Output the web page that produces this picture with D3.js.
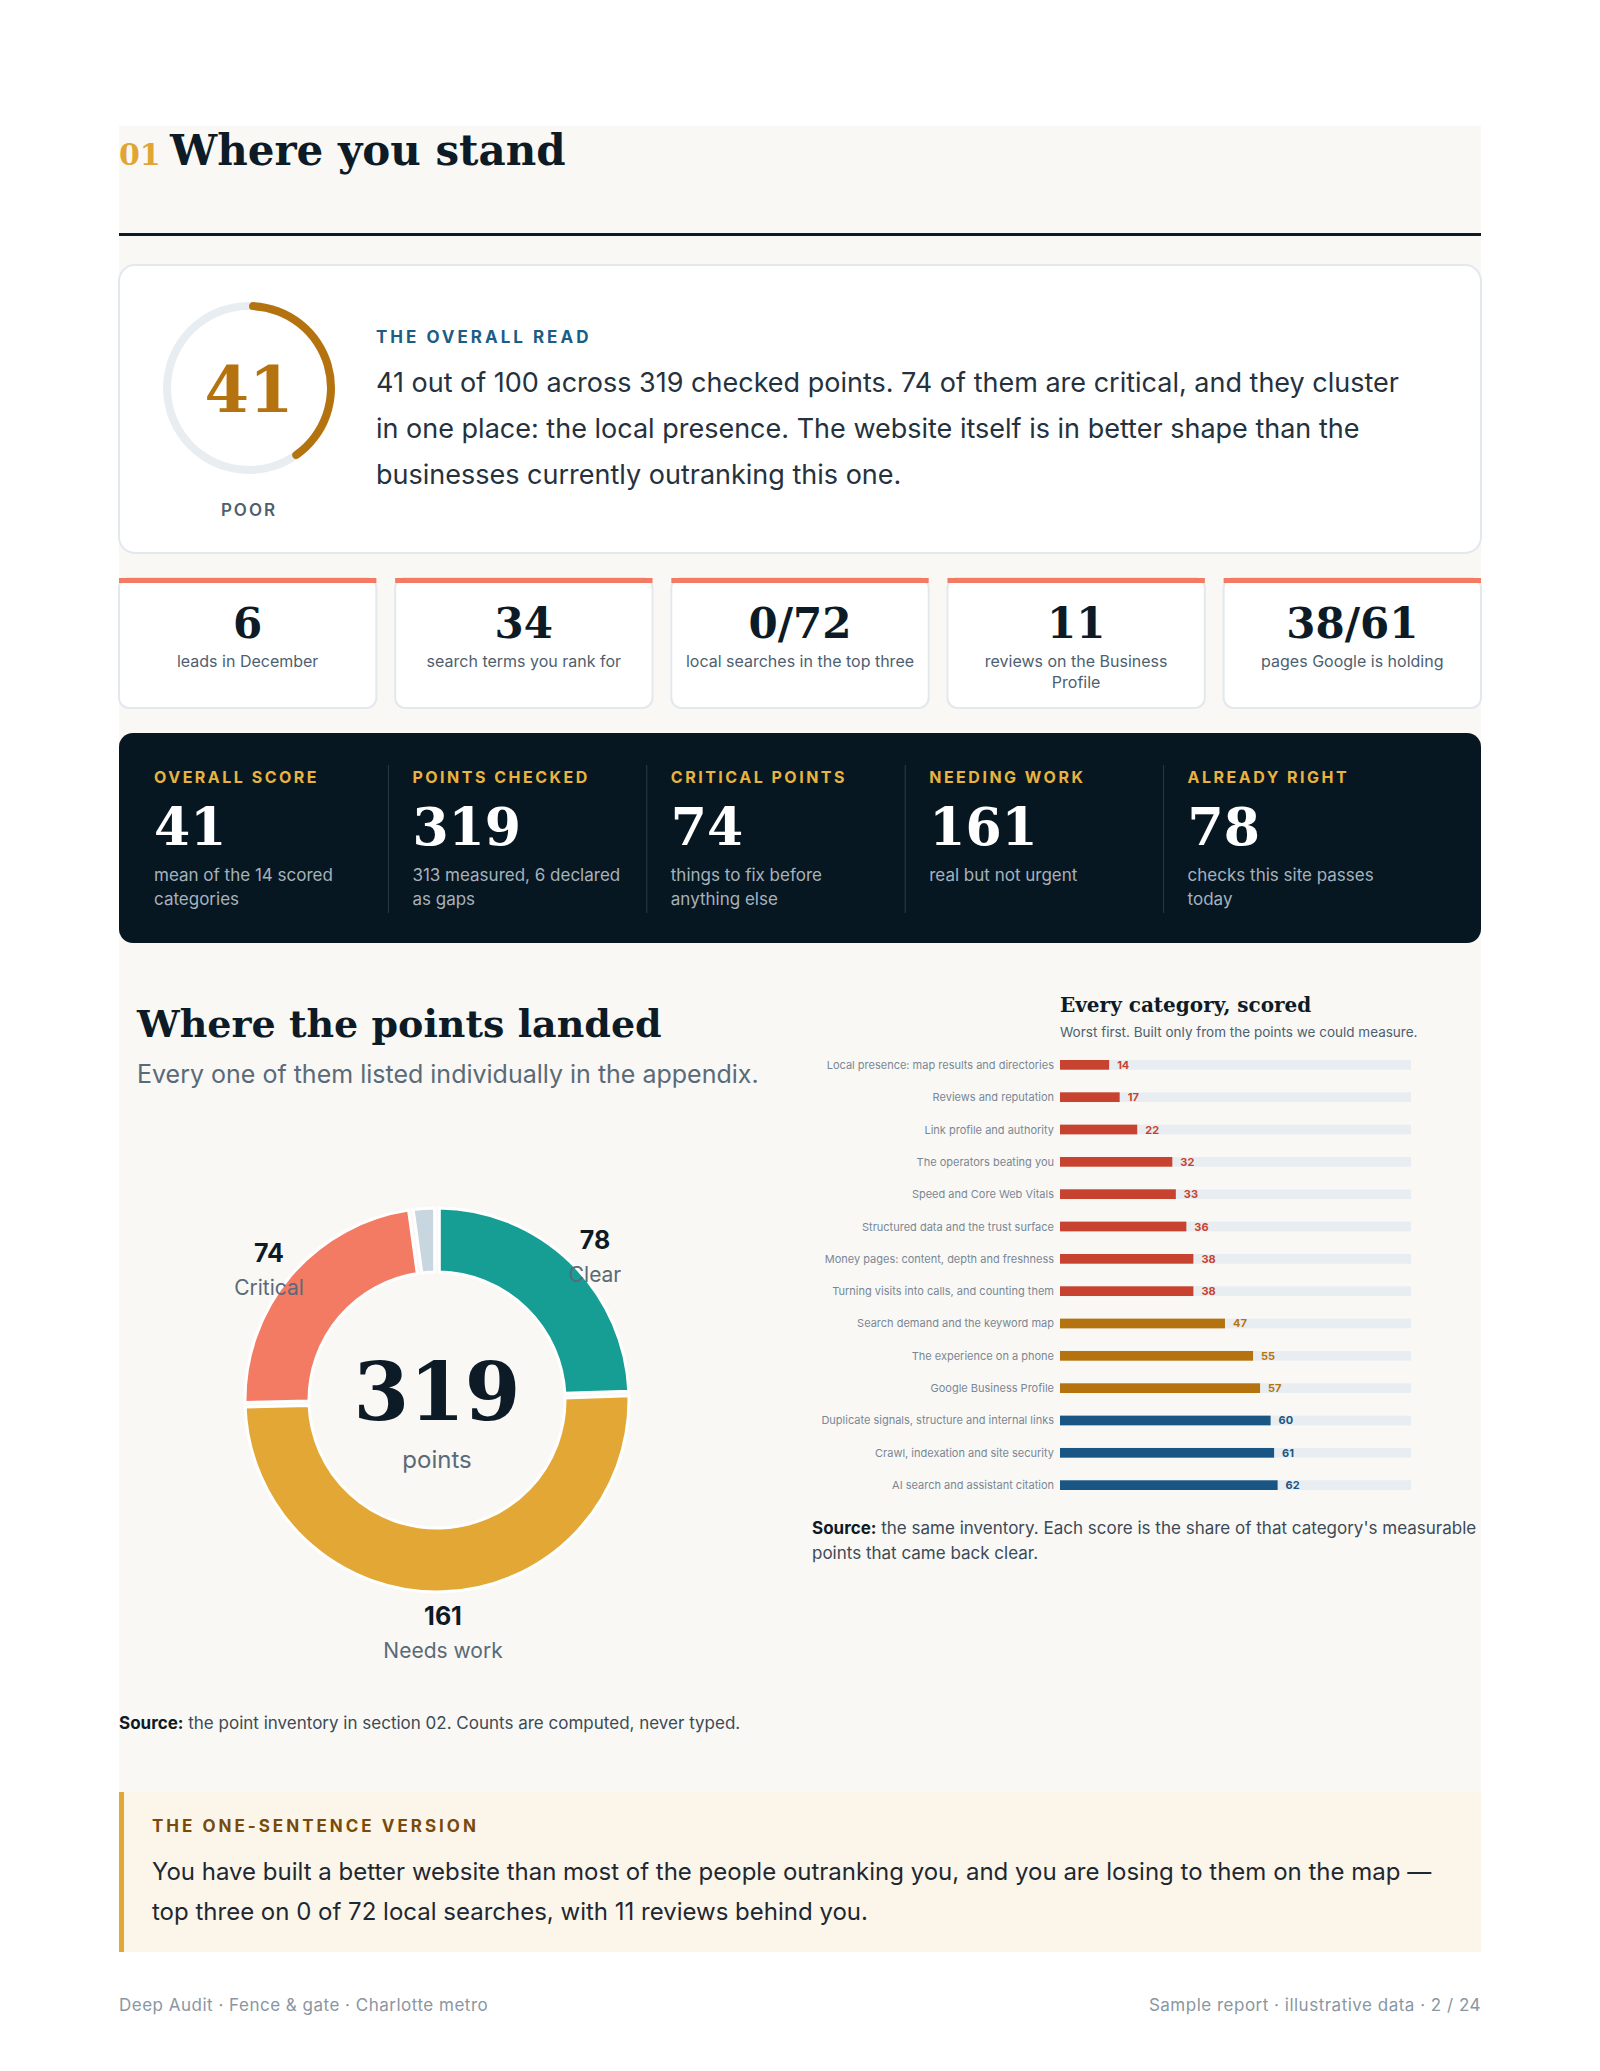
<!DOCTYPE html>
<html><head><meta charset="utf-8">
<script src="https://cdn.jsdelivr.net/npm/d3@7"></script>
<style>
body{margin:0;background:#fff}
svg text{font-family:Inter,"Liberation Sans",sans-serif}
.serif{font-family:"DejaVu Serif","Liberation Serif",serif;font-weight:bold}
</style></head><body>
<svg id="page" width="1600" height="2071"></svg>
<script>
var kpiValues = ["6", "34", "0/72", "11", "38/61"]
var kpiLabels = [["leads in December"], ["search terms you rank for"], ["local searches in the top three"], ["reviews on the Business", "Profile"], ["pages Google is holding"]]
var darkLabels = ["OVERALL SCORE", "POINTS CHECKED", "CRITICAL POINTS", "NEEDING WORK", "ALREADY RIGHT"]
var darkValues = ["41", "319", "74", "161", "78"]
var darkNotes = [["mean of the 14 scored", "categories"], ["313 measured, 6 declared", "as gaps"], ["things to fix before", "anything else"], ["real but not urgent"], ["checks this site passes", "today"]]
var donutNames = ["Clear", "Needs work", "Critical", "Gap"]
var donutValues = [78, 161, 74, 6]
var categories = ["Local presence: map results and directories", "Reviews and reputation", "Link profile and authority", "The operators beating you", "Speed and Core Web Vitals", "Structured data and the trust surface", "Money pages: content, depth and freshness", "Turning visits into calls, and counting them", "Search demand and the keyword map", "The experience on a phone", "Google Business Profile", "Duplicate signals, structure and internal links", "Crawl, indexation and site security", "AI search and assistant citation"]
var scores = [14, 17, 22, 32, 33, 36, 38, 38, 47, 55, 57, 60, 61, 62]
var overall = 41

var svg = d3.select("#page")
var L = 119, R = 1481

// panel + header
svg.append("rect").attr("x", L).attr("y", 126).attr("width", R - L).attr("height", 1826).attr("fill", "#f9f8f5")
svg.append("text").attr("class", "serif").attr("x", L).attr("y", 165).attr("font-size", 30).attr("fill", "#e0a533").text("01")
svg.append("text").attr("class", "serif").attr("x", 170).attr("y", 165).attr("font-size", 42).attr("fill", "#0d1b26").text("Where you stand")
svg.append("rect").attr("x", L).attr("y", 233).attr("width", R - L).attr("height", 3).attr("fill", "#0d1b26")

// score card
svg.append("rect").attr("x", L).attr("y", 265).attr("width", R - L).attr("height", 288).attr("rx", 16).attr("fill", "#fff").attr("stroke", "#e3e8ec").attr("stroke-width", 2)
var ring = svg.append("g").attr("transform", "translate(249,388)")
var ringArc = d3.arc().innerRadius(78).outerRadius(86).cornerRadius(4)
ring.append("path").attr("d", ringArc({startAngle: 0, endAngle: 2 * Math.PI})).attr("fill", "#e8edf1")
ring.append("path").attr("d", ringArc({startAngle: 0, endAngle: 2 * Math.PI * overall / 100})).attr("fill", "#b5730f")
ring.append("text").attr("class", "serif").attr("text-anchor", "middle").attr("y", 24).attr("font-size", 64).attr("fill", "#b5730f").text(overall)
svg.append("text").attr("x", 249).attr("y", 516).attr("text-anchor", "middle").attr("font-size", 17).attr("font-weight", 600).attr("letter-spacing", 2).attr("fill", "#4d5f70").text("POOR")
svg.append("text").attr("x", 376).attr("y", 343).attr("font-size", 17).attr("font-weight", 700).attr("letter-spacing", 3).attr("fill", "#1c5d86").text("THE OVERALL READ")
var read = ["41 out of 100 across 319 checked points. 74 of them are critical, and they cluster", "in one place: the local presence. The website itself is in better shape than the", "businesses currently outranking this one."]
svg.append("text").attr("font-size", 27).attr("fill", "#25323e").selectAll("tspan").data(read).join("tspan")
  .attr("x", 376).attr("y", function (d, i) { return 392 + i * 46 }).text(function (d) { return d })

// kpi cards
var kx = d3.scaleBand().domain(d3.range(5)).range([L, R]).paddingInner(0.068)
var kg = svg.selectAll(".kpi").data(kpiValues).join("g").attr("transform", function (d, i) { return "translate(" + kx(i) + ",578)" })
kg.append("rect").attr("width", kx.bandwidth()).attr("height", 130).attr("rx", 10).attr("fill", "#fff").attr("stroke", "#e3e8ec").attr("stroke-width", 2)
kg.append("rect").attr("width", kx.bandwidth()).attr("height", 5).attr("fill", "#f47b63")
kg.append("text").attr("class", "serif").attr("x", kx.bandwidth() / 2).attr("y", 638).attr("transform", "translate(0,-578)").attr("text-anchor", "middle").attr("font-size", 42).attr("fill", "#0d1b26").text(function (d) { return d })
kg.each(function (d, i) {
  d3.select(this).append("text").attr("font-size", 16).attr("fill", "#4d5f70").attr("text-anchor", "middle")
    .selectAll("tspan").data(kpiLabels[i]).join("tspan").attr("x", kx.bandwidth() / 2).attr("y", function (t, j) { return 89 + j * 21 }).text(function (t) { return t })
})

// dark panel
svg.append("rect").attr("x", L).attr("y", 733).attr("width", R - L).attr("height", 210).attr("rx", 14).attr("fill", "#071722")
var dx = d3.scaleBand().domain(d3.range(5)).range([L + 35, R - 35])
var dg = svg.selectAll(".dk").data(darkValues).join("g").attr("transform", function (d, i) { return "translate(" + dx(i) + ",733)" })
dg.filter(function (d, i) { return i > 0 }).append("line").attr("x1", -24).attr("x2", -24).attr("y1", 32).attr("y2", 180).attr("stroke", "#2b3b48")
dg.append("text").attr("y", 50).attr("font-size", 16).attr("font-weight", 700).attr("letter-spacing", 2.5).attr("fill", "#e8b33e").text(function (d, i) { return darkLabels[i] })
dg.append("text").attr("class", "serif").attr("y", 112).attr("font-size", 52).attr("fill", "#fff").text(function (d) { return d })
dg.each(function (d, i) {
  d3.select(this).append("text").attr("font-size", 17).attr("fill", "#a6b1bb")
    .selectAll("tspan").data(darkNotes[i]).join("tspan").attr("x", 0).attr("y", function (t, j) { return 148 + j * 24 }).text(function (t) { return t })
})

// donut section
svg.append("text").attr("class", "serif").attr("x", 137).attr("y", 1037).attr("font-size", 38).attr("fill", "#0d1b26").text("Where the points landed")
svg.append("text").attr("x", 137).attr("y", 1083).attr("font-size", 25).attr("fill", "#5a6a78").text("Every one of them listed individually in the appendix.")
var donutColors = d3.scaleOrdinal().domain(donutNames).range(["#169e94", "#e3a735", "#f47b63", "#c8d6e0"])
var pie = d3.pie().sort(null).value(function (d) { return d }).padAngle(0.02)
var arcs = pie(donutValues)
var darc = d3.arc().innerRadius(128).outerRadius(192)
var dn = svg.append("g").attr("transform", "translate(437,1400)")
dn.selectAll("path").data(arcs).join("path").attr("d", darc).attr("fill", function (d, i) { return donutColors(donutNames[i]) }).attr("stroke", "#fff").attr("stroke-width", 3)
dn.append("text").attr("class", "serif").attr("text-anchor", "middle").attr("y", 20).attr("font-size", 80).attr("fill", "#0d1b26").text(d3.sum(donutValues))
dn.append("text").attr("text-anchor", "middle").attr("y", 68).attr("font-size", 24).attr("fill", "#5a6a78").text("points")
var labArc = d3.arc().innerRadius(228).outerRadius(228)
arcs.slice(0, 3).forEach(function (a, i) {
  var c = labArc.centroid(a)
  var off = [[32, -100], [0, 40], [-30, -110]][i]
  var x = c[0] * 0.55 + off[0] * 0 , y = c[1]
  var pos = [[158, -151], [6, 225], [-168, -138]][i]
  dn.append("text").attr("x", pos[0]).attr("y", pos[1]).attr("text-anchor", "middle").attr("font-size", 25).attr("font-weight", 700).attr("fill", "#0d1b26").text(donutValues[i])
  dn.append("text").attr("x", pos[0]).attr("y", pos[1] + 33).attr("text-anchor", "middle").attr("font-size", 21).attr("fill", "#5a6a78").text(donutNames[i])
})
var s1 = svg.append("text").attr("x", L).attr("y", 1729).attr("font-size", 17).attr("fill", "#3c4a57")
s1.append("tspan").attr("font-weight", 700).attr("fill", "#0d1b26").text("Source:")
s1.append("tspan").text(" the point inventory in section 02. Counts are computed, never typed.")

// bar chart
svg.append("text").attr("class", "serif").attr("x", 1060).attr("y", 1012).attr("font-size", 20).attr("fill", "#0d1b26").text("Every category, scored")
svg.append("text").attr("x", 1060).attr("y", 1037).attr("font-size", 13.5).attr("fill", "#4d5f70").text("Worst first. Built only from the points we could measure.")
var x = d3.scaleLinear().domain([0, 100]).range([1060, 1411])
var y = d3.scaleBand().domain(categories).range([1060, 1490]).paddingInner(0.7)
var color = function (v) { return v < 40 ? "#c8432f" : v < 58 ? "#b5730f" : "#1a5683" }
var rows = svg.selectAll(".row").data(categories).join("g")
rows.append("rect").attr("x", x(0)).attr("y", function (d) { return y(d) }).attr("width", x(100) - x(0)).attr("height", y.bandwidth()).attr("fill", "#e8edf1")
rows.append("rect").attr("x", x(0)).attr("y", function (d) { return y(d) }).attr("width", function (d, i) { return x(scores[i]) - x(0) }).attr("height", y.bandwidth()).attr("fill", function (d, i) { return color(scores[i]) })
rows.append("text").attr("x", x(0) - 6).attr("y", function (d) { return y(d) + y.bandwidth() / 2 + 4 }).attr("text-anchor", "end").attr("font-size", 11).attr("fill", "#7a8794").text(function (d) { return d })
rows.append("text").attr("x", function (d, i) { return x(scores[i]) + 8 }).attr("y", function (d) { return y(d) + y.bandwidth() / 2 + 4 }).attr("font-size", 11).attr("font-weight", 700).attr("fill", function (d, i) { return color(scores[i]) }).text(function (d, i) { return scores[i] })
var s2 = svg.append("text").attr("font-size", 17).attr("fill", "#3c4a57")
s2.append("tspan").attr("x", 812).attr("y", 1534).attr("font-weight", 700).attr("fill", "#0d1b26").text("Source:")
s2.append("tspan").text(" the same inventory. Each score is the share of that category's measurable")
s2.append("tspan").attr("x", 812).attr("y", 1559).text("points that came back clear.")

// callout
svg.append("rect").attr("x", L).attr("y", 1792).attr("width", R - L).attr("height", 160).attr("fill", "#fcf6ea")
svg.append("rect").attr("x", L).attr("y", 1792).attr("width", 5).attr("height", 160).attr("fill", "#e3a735")
svg.append("text").attr("x", 152).attr("y", 1832).attr("font-size", 17).attr("font-weight", 700).attr("letter-spacing", 3).attr("fill", "#7a4a0a").text("THE ONE-SENTENCE VERSION")
svg.append("text").attr("font-size", 24).attr("fill", "#1d2833").selectAll("tspan")
  .data(["You have built a better website than most of the people outranking you, and you are losing to them on the map \u2014", "top three on 0 of 72 local searches, with 11 reviews behind you."]).join("tspan")
  .attr("x", 152).attr("y", function (d, i) { return 1880 + i * 40 }).text(function (d) { return d })

// footer
svg.append("text").attr("x", L).attr("y", 2011).attr("font-size", 17).attr("letter-spacing", 0.5).attr("fill", "#8a96a2").text("Deep Audit \u00b7 Fence & gate \u00b7 Charlotte metro")
svg.append("text").attr("x", R).attr("y", 2011).attr("text-anchor", "end").attr("font-size", 17).attr("letter-spacing", 0.5).attr("fill", "#8a96a2").text("Sample report \u00b7 illustrative data \u00b7 2 / 24")
</script></body></html>
